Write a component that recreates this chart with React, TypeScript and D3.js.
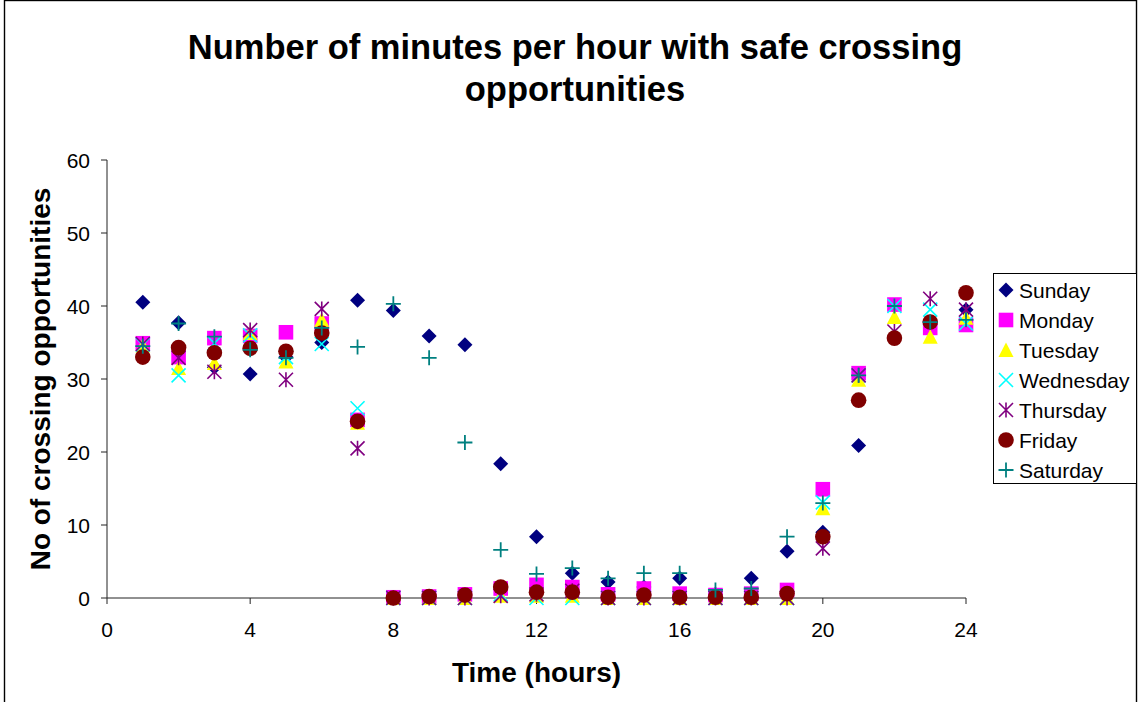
import React from "react";
import * as d3 from "d3";

// Hours of the day (x) and minutes per hour with safe crossing opportunities (y)
const hours = [1, 2, 3, 4, 5, 6, 7, 8, 9, 10, 11, 12, 13, 14, 15, 16, 17, 18, 19, 20, 21, 22, 23, 24];

const sunday = [40.5, 37.7, 31.6, 30.7, 33.0, 35.0, 40.8, 39.4, 35.9, 34.7, 18.4, 8.4, 3.4, 2.2, 1.5, 2.7, 0.5, 2.7, 6.4, 9.0, 20.9, 40.0, 37.5, 39.5];
const monday = [34.9, 33.0, 35.6, 35.9, 36.4, 37.6, 24.4, 0.1, 0.2, 0.5, 1.3, 1.8, 1.5, 0.5, 1.3, 0.6, 0.4, 0.6, 1.1, 14.9, 30.8, 40.2, 37.0, 37.4];
const tuesday = [34.6, 31.5, 32.2, 36.3, 32.4, 38.1, 24.0, 0, 0, 0, 0.3, 0.3, 0.3, 0, 0, 0, 0, 0, 0, 12.3, 29.9, 38.5, 35.8, 38.4];
const wednesday = [34.7, 30.5, 34.9, 36.0, 33.0, 34.8, 26.0, 0, 0, 0, 0.5, 0, 0, 0, 0, 0, 0, 0, 0, 13.1, 30.5, 40.0, 39.5, 37.6];
const thursday = [34.8, 32.9, 31.0, 36.7, 29.9, 39.6, 20.5, 0, 0, 0, 0.3, 0.5, 1.0, 0, 0, 0, 0, 0, 0, 6.8, 30.5, 36.5, 41.0, 39.5];
const friday = [33.0, 34.3, 33.6, 34.2, 33.8, 36.3, 24.2, 0, 0.2, 0.4, 1.5, 0.8, 0.8, 0.1, 0.4, 0.1, 0.1, 0.1, 0.6, 8.4, 27.1, 35.6, 37.8, 41.8];
const saturday = [34.5, 37.6, 35.8, 34.0, 32.9, 37.0, 34.4, 40.3, 32.9, 21.3, 6.6, 3.3, 4.1, 2.7, 3.4, 3.4, 1.1, 1.3, 8.4, 13.0, 30.5, 40.0, 37.8, 38.1];

const xTicks = [0, 4, 8, 12, 16, 20, 24];
const yTicks = [0, 10, 20, 30, 40, 50, 60];

type MarkerKind = "diamond" | "square" | "triangle" | "x" | "star" | "circle" | "plus";

const series: { name: string; values: number[]; color: string; marker: MarkerKind }[] = [
  { name: "Sunday", values: sunday, color: "#000080", marker: "diamond" },
  { name: "Monday", values: monday, color: "#FF00FF", marker: "square" },
  { name: "Tuesday", values: tuesday, color: "#FFFF00", marker: "triangle" },
  { name: "Wednesday", values: wednesday, color: "#00FFFF", marker: "x" },
  { name: "Thursday", values: thursday, color: "#800080", marker: "star" },
  { name: "Friday", values: friday, color: "#800000", marker: "circle" },
  { name: "Saturday", values: saturday, color: "#008080", marker: "plus" },
];

const FONT = "'Liberation Sans', Arial, sans-serif";

const Marker = ({ kind, x, y, color }: { kind: MarkerKind; x: number; y: number; color: string }) => {
  const t = `translate(${x},${y})`;
  switch (kind) {
    case "diamond":
      return <path transform={t} d="M0,-7.5L7.5,0L0,7.5L-7.5,0Z" fill={color} />;
    case "square":
      return <rect transform={t} x={-7.3} y={-7.3} width={14.6} height={14.6} fill={color} />;
    case "triangle":
      return <path transform={t} d="M0,-7.5L7.5,7L-7.5,7Z" fill={color} />;
    case "x":
      return <path transform={t} d="M-7,-7L7,7M-7,7L7,-7" stroke={color} strokeWidth={1.6} fill="none" />;
    case "star":
      return <path transform={t} d="M-7,-7L7,7M-7,7L7,-7M0,-7.5L0,7.5" stroke={color} strokeWidth={1.6} fill="none" />;
    case "circle":
      return <circle cx={x} cy={y} r={7.8} fill={color} />;
    case "plus":
      return <path transform={t} d="M-7.5,0L7.5,0M0,-7.5L0,7.5" stroke={color} strokeWidth={1.8} fill="none" />;
  }
};

export default function App() {
  const width = 1138;
  const height = 702;
  const x = d3.scaleLinear().domain([0, 24]).range([107, 966]);
  const y = d3.scaleLinear().domain([0, 60]).range([598, 160]);
  const axisColor = "#222";

  return (
    <svg
      width={width}
      height={height}
      style={{ position: "absolute", left: 0, top: 0, background: "#fff" }}
      fontFamily={FONT}
    >
      <rect x={4.5} y={0.5} width={1132} height={760} fill="#fff" stroke="#000" strokeWidth={1.4} />

      <text x={575} y={59} textAnchor="middle" fontSize={34.5} fontWeight="bold">
        Number of minutes per hour with safe crossing
      </text>
      <text x={575} y={101} textAnchor="middle" fontSize={34.5} fontWeight="bold">
        opportunities
      </text>

      {/* axes */}
      <line x1={x(0)} x2={x(0)} y1={y(60)} y2={y(0)} stroke={axisColor} />
      <line x1={x(0)} x2={x(24)} y1={y(0)} y2={y(0)} stroke={axisColor} />
      {yTicks.map((v) => (
        <g key={`y${v}`}>
          <line x1={x(0) - 6} x2={x(0)} y1={y(v)} y2={y(v)} stroke={axisColor} />
          <text x={90} y={y(v) + 7.5} textAnchor="end" fontSize={21}>
            {v}
          </text>
        </g>
      ))}
      {xTicks.map((v) => (
        <g key={`x${v}`}>
          <line x1={x(v)} x2={x(v)} y1={y(0)} y2={y(0) + 6} stroke={axisColor} />
          <text x={x(v)} y={637} textAnchor="middle" fontSize={21}>
            {v}
          </text>
        </g>
      ))}

      <text x={536.5} y={682} textAnchor="middle" fontSize={28} fontWeight="bold">
        Time (hours)
      </text>
      <text
        transform={`translate(50,379) rotate(-90)`}
        textAnchor="middle"
        fontSize={28}
        fontWeight="bold"
      >
        No of crossing opportunities
      </text>

      {/* data points */}
      {series.map((s) => (
        <g key={s.name}>
          {s.values.map((v, i) => (
            <Marker key={i} kind={s.marker} x={x(hours[i])} y={y(v)} color={s.color} />
          ))}
        </g>
      ))}

      {/* legend */}
      <rect x={993.5} y={273.5} width={143} height={210} fill="#fff" stroke="#000" />
      {series.map((s, i) => {
        const cy = 290 + i * 30;
        return (
          <g key={`lg${s.name}`}>
            <Marker kind={s.marker} x={1006} y={cy} color={s.color} />
            <text x={1019} y={cy + 7.5} fontSize={21}>
              {s.name}
            </text>
          </g>
        );
      })}
    </svg>
  );
}
